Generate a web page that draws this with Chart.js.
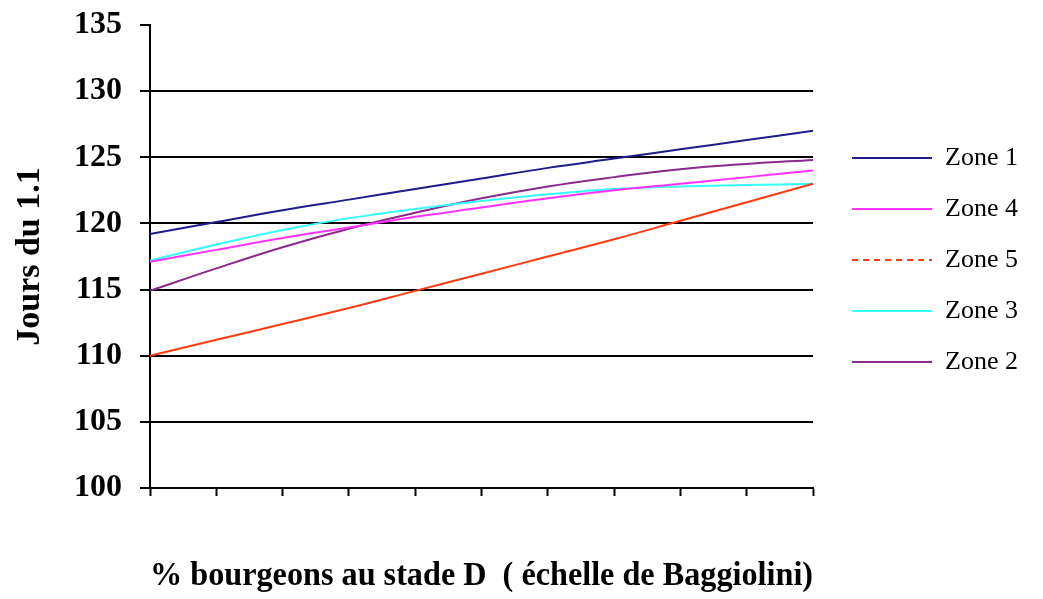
<!DOCTYPE html>
<html>
<head>
<meta charset="utf-8">
<script src="https://cdn.jsdelivr.net/npm/chart.js@4/dist/chart.umd.min.js"></script>
<style>
  html, body { margin: 0; padding: 0; background: #fff; }
  #wrap { width: 1043px; height: 599px; position: relative; }
</style>
</head>
<body>
<div id="wrap"><canvas id="chart"></canvas></div>
<script>
// % of buds at stage D, 0..100 in steps of 10 (labels hidden on the axis)
const stages = ['0', '10', '20', '30', '40', '50', '60', '70', '80', '90', '100'];

const zone1 = [119.2, 120.1, 121.0, 121.8, 122.6, 123.4, 124.2, 124.9, 125.6, 126.3, 127.0];
const zone4 = [117.1, 118.0, 118.9, 119.7, 120.5, 121.2, 121.9, 122.5, 123.0, 123.5, 124.0];
const zone5 = [110.0, 111.2, 112.4, 113.6, 114.9, 116.2, 117.5, 118.8, 120.2, 121.6, 123.0];
const zone3 = [117.2, 118.4, 119.5, 120.4, 121.1, 121.7, 122.2, 122.6, 122.8, 122.9, 123.0];
const zone2 = [114.9, 116.6, 118.2, 119.6, 120.8, 121.9, 122.8, 123.5, 124.1, 124.5, 124.8];

const yTicks = [100, 105, 110, 115, 120, 125, 130, 135];

const serif = '"Liberation Serif", "Times New Roman", serif';

function line(label, data, color, legendDash) {
  return {
    label: label,
    data: data,
    borderColor: color,
    backgroundColor: color,
    borderWidth: 2,
    pointRadius: 0,
    tension: 0.4,
    fill: false,
    legendDash: legendDash || []
  };
}

// put the legend block where the original has it (right of the plot, upper middle)
const legendPlace = {
  id: 'legendPlace',
  afterLayout(chart) {
    const lg = chart.legend;
    const dx = 14;
    const dy = 120 - lg.top;
    lg.left += dx; lg.right += dx;
    lg.top += dy; lg.bottom += dy;
  }
};

new Chart(document.getElementById('chart'), {
  type: 'line',
  data: {
    labels: stages,
    datasets: [
      line('Zone 1', zone1, '#1c1c8c'),
      line('Zone 4', zone4, '#ff33ff'),
      line('Zone 5', zone5, '#ff3a10', [6, 5]),
      line('Zone 3', zone3, '#33ffff'),
      line('Zone 2', zone2, '#8a2a8a')
    ]
  },
  plugins: [legendPlace],
  options: {
    responsive: true,
    maintainAspectRatio: false,
    animation: false,
    layout: { padding: { top: 25, left: 0, bottom: 0, right: 29 } },
    plugins: {
      tooltip: { enabled: false },
      legend: {
        position: 'right',
        align: 'start',
        labels: {
          color: '#000',
          font: { family: serif, size: 26 },
          usePointStyle: true,
          pointStyleWidth: 80,
          boxHeight: 2,
          padding: 25,
          generateLabels(chart) {
            return chart.data.datasets.map((ds, i) => ({
              text: ds.label,
              datasetIndex: i,
              pointStyle: 'line',
              fillStyle: ds.borderColor,
              strokeStyle: ds.borderColor,
              lineWidth: 2,
              lineDash: ds.legendDash,
              fontColor: '#000',
              hidden: false
            }));
          }
        }
      }
    },
    scales: {
      x: {
        type: 'category',
        offset: false,
        afterFit(axis) { axis.height = 111; },
        border: { display: true, color: '#000', width: 2 },
        grid: {
          drawOnChartArea: false,
          drawTicks: true,
          tickLength: 8,
          tickColor: '#000',
          tickWidth: 2
        },
        ticks: { display: false },
        title: {
          display: true,
          text: '% bourgeons au stade D  ( échelle de Baggiolini)',
          color: '#000',
          font: { family: serif, size: 34.5, weight: 'bold' },
          padding: { top: 0, bottom: 2 }
        }
      },
      y: {
        min: yTicks[0],
        max: yTicks[yTicks.length - 1],
        afterFit(axis) {
          axis.width = 150;
          axis.paddingTop = 0;
          axis.paddingBottom = 0;
        },
        afterBuildTicks(axis) { axis.ticks = yTicks.map(v => ({ value: v })); },
        border: { display: true, color: '#000', width: 2 },
        grid: {
          color: ctx => (ctx.tick && ctx.tick.value === 135 ? 'rgba(0,0,0,0)' : '#000'),
          lineWidth: 2,
          tickColor: '#000',
          tickLength: 10,
          tickWidth: 2
        },
        ticks: {
          color: '#000',
          padding: 18,
          font: { family: serif, size: 32, weight: 'bold' }
        },
        title: {
          display: true,
          text: 'Jours du 1.1',
          color: '#000',
          font: { family: serif, size: 34, weight: 'bold' },
          padding: { top: 10, bottom: 0 }
        }
      }
    }
  }
});
</script>
</body>
</html>
